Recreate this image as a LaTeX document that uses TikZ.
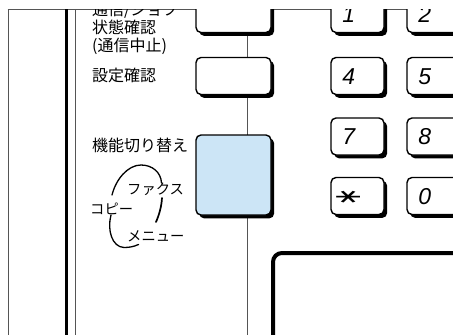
\documentclass[tikz,border=0pt]{standalone}
\usepackage{fontspec}
\usetikzlibrary{shadows,calc}
\newfontfamily\jpfont{Noto Sans CJK JP}
\newfontfamily\digfont{Liberation Sans}
\newfontfamily\symfont{DejaVu Sans}
\definecolor{keyblue}{RGB}{204,229,246}
\definecolor{linegray}{RGB}{85,85,85}
\begin{document}
\begin{tikzpicture}[x=1pt,y=-1pt,
  btn/.style={draw=black, line width=1.4pt, fill=white, rounded corners=5pt,
    drop shadow={shadow xshift=3.2pt, shadow yshift=-3.4pt, fill=black, opacity=1},
    inner sep=0pt},
  wide/.style={btn, minimum width=75pt, minimum height=37pt},
  keyb/.style={btn, minimum width=53pt, minimum height=37pt},
  lbl/.style={font=\jpfont\fontsize{16}{18}\selectfont, anchor=west, align=left, inner sep=0pt},
  kana/.style={font=\jpfont\fontsize{14.3}{16}\selectfont, anchor=west, inner sep=0pt},
  dig/.style={font=\digfont\itshape\fontsize{23}{23}\selectfont, inner sep=0pt},
  thin/.style={draw=linegray, line width=1pt},
  arc/.style={line width=1.3pt, line cap=round}
]
\useasboundingbox (0,0) rectangle (453,335);
\begin{scope}
\clip (0,9) rectangle (453,335);
% frame lines
\coordinate (tl) at (7.5,9);
\coordinate (tr) at (453,9);
\draw[thin] (tl) -- (tr);
\draw[thin] (8,9) -- (8,335);
\draw[line width=2.6pt] (66.5,9) -- (66.5,335);
\draw[draw=linegray, line width=1.3pt] (75.8,9) -- (75.8,335);
\draw[thin] (247,9) -- (247,335);
% left buttons
\node[wide] (b1) at (233.5,14) {};
\node[wide] (b2) at (233.5,76) {};
\node[btn, fill=keyblue, minimum width=75pt, minimum height=80pt] (bf) at (233.5,175) {};
% keypad
\foreach \n/\x/\y/\t in {k1/357.5/14/1, k2/433.5/14/2, k4/357.5/76/4, k5/433.5/76/5,
                        k7/357.5/136.5/7, k8/433.5/136.5/8, k0/433.5/196/0}{
  \node[keyb] (\n) at (\x,\y) {};
  \node[dig] (\n t) at ($(\n.west)+(18.5,0.5)$) {\t};
}
\node[keyb] (ks) at (357.5,196) {};
\node[inner sep=0pt] (kst) at ($(ks.west)+(18.5,1)$) {\symfont\scalebox{1.9}[1.0]{\rotatebox{90}{\fontsize{20}{20}\selectfont ∗}}};
% display
\draw[line width=4pt, rounded corners=9pt] (273,360) -- (273,253) -- (480,253);
% labels
\node[lbl] (l1) at (92,28) {通信/ジョブ\\状態確認\\(通信中止)};
\node[lbl] (l2) at (92,75) {設定確認};
\node[lbl] (l3) at (92,145) {機能切り替え};
\node[kana] (fax) at (127,189) {ファクス};
\node[kana] (copy) at (90,209) {コピー};
\node[kana] (menu) at (127,236) {メニュー};
% mode loop
\draw[arc] (112,195) .. controls (116,179) and (128,165) .. (141,165)
   .. controls (152,165) and (161,172) .. (161.5,183);
\draw[arc, line width=1.7pt] (162,198) .. controls (161.5,206) and (159.5,214) .. (156,222);
\draw[arc] (111,215) .. controls (107,230) and (112,247) .. (124,247.5)
   .. controls (130,247.5) and (134,246.5) .. (138.5,244.5);
\end{scope}
\end{tikzpicture}
\end{document}
